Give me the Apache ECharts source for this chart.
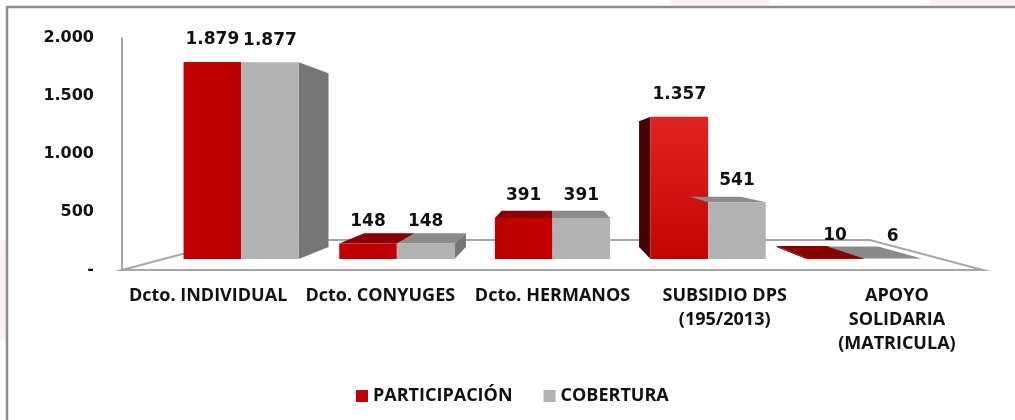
<!DOCTYPE html>
<html>
<head>
<meta charset="utf-8">
<script src="https://cdn.jsdelivr.net/npm/echarts@6/dist/echarts.min.js"></script>
<style>
  html, body { margin: 0; padding: 0; background: #fff; }
  #chart { width: 1015px; height: 420px; }
</style>
</head>
<body>
<div id="chart"></div>
<script>
/* datos del grafico */
var categorias = ["Dcto. INDIVIDUAL", "Dcto. CONYUGES", "Dcto. HERMANOS", "SUBSIDIO DPS\n(195/2013)", "APOYO\nSOLIDARIA\n(MATRICULA)"];
var participacion = [1879, 148, 391, 1357, 10];
var cobertura = [1877, 148, 391, 541, 6];
var ticksY = [0, 500, 1000, 1500, 2000];

var destacado = 3; // barra roja con degradado (SUBSIDIO DPS)

function fmt(v) {
  return String(v).replace(/\B(?=(\d{3})+(?!\d))/g, ".");
}

/* perspectiva tipo Excel 3D */
var K_FRENTE = 0.904, K_FONDO = 0.798, K_PISO = 0.737;

function puntoFuga(cs) {
  return [cs.x + cs.width / 2, cs.y + cs.height * 0.508];
}

function cajas(serie, col) {
  return function (params, api) {
    var cs = params.coordSys;
    var vp = puntoFuga(cs);
    var i = api.value(0), v = api.value(1);
    var base = api.coord([i, 0]);
    var tope = api.coord([i, v]);
    var bw = api.size([1, 0])[0] * 0.37;
    var x0 = serie === 0 ? base[0] - bw : base[0];
    var x1 = x0 + bw;
    function P(x, y, k) { return [vp[0] + (x - vp[0]) * k, vp[1] + (y - vp[1]) * k]; }
    var fb0 = P(x0, base[1], K_FRENTE), fb1 = P(x1, base[1], K_FRENTE);
    var ft0 = P(x0, tope[1], K_FRENTE), ft1 = P(x1, tope[1], K_FRENTE);
    var bb0 = P(x0, base[1], K_FONDO), bb1 = P(x1, base[1], K_FONDO);
    var bt0 = P(x0, tope[1], K_FONDO), bt1 = P(x1, tope[1], K_FONDO);
    var hijos = [];

    // lado izquierdo (solo serie roja) o derecho (solo serie gris)
    if (serie === 0 && fb0[0] > vp[0]) {
      hijos.push({ type: "polygon", shape: { points: [fb0, ft0, bt0, bb0] }, style: { fill: col.lado } });
    }
    if (serie === 1 && fb1[0] < vp[0]) {
      hijos.push({ type: "polygon", shape: { points: [fb1, ft1, bt1, bb1] }, style: { fill: col.lado } });
    }
    // tapa superior
    if (ft0[1] > vp[1]) {
      hijos.push({ type: "polygon", shape: { points: [ft0, ft1, bt1, bt0] }, style: { fill: col.tapa } });
    }
    // frente
    var relleno = col.frente;
    if (serie === 0 && i === destacado) {
      relleno = new echarts.graphic.LinearGradient(0, 0, 0, 1, [
        { offset: 0, color: "#e02424" },
        { offset: 1, color: "#c20404" }
      ]);
    }
    hijos.push({ type: "polygon", shape: { points: [fb0, fb1, ft1, ft0] }, style: { fill: relleno } });
    // etiqueta
    hijos.push({
      type: "text",
      z2: 20,
      style: {
        text: fmt(v),
        x: (ft0[0] + ft1[0]) / 2,
        y: ft0[1] - 22,
        align: "center",
        verticalAlign: "middle",
        font: 'bold 17px "DejaVu Sans"',
        fill: "#111"
      }
    });
    return { type: "group", children: hijos };
  };
}

function piso(params, api) {
  var cs = params.coordSys;
  var vp = puntoFuga(cs);
  var y0 = cs.y + cs.height, xa = cs.x, xb = cs.x + cs.width;
  function P(x, y, k) { return [vp[0] + (x - vp[0]) * k, vp[1] + (y - vp[1]) * k]; }
  return {
    type: "polygon",
    shape: { points: [[xa, y0], [xb, y0], P(xb, y0, K_PISO), P(xa, y0, K_PISO)] },
    style: { fill: "#fff", stroke: "#a6a6a6", lineWidth: 2 }
  };
}

var colRojo = { frente: "#c00000", tapa: "#8a0000", lado: "#4a0000" };
var colGris = { frente: "#b2b2b2", tapa: "#8a8a8a", lado: "#767676" };

var chart = echarts.init(document.getElementById("chart"), null, { renderer: "canvas" });

var option = {
  backgroundColor: "#fff",
  animation: false,
  graphic: [
    { type: "rect", shape: { x: 670, y: 0, width: 100, height: 6 }, style: { fill: "#fef2f4" } },
    { type: "rect", shape: { x: 930, y: 0, width: 85, height: 6 }, style: { fill: "#fef2f4" } },
    { type: "rect", shape: { x: 0, y: 240, width: 6, height: 100 }, style: { fill: "#fef2f4" } },
    {
      type: "polyline",
      shape: { points: [[7, 420], [7, 7], [1015, 7]] },
      style: { stroke: "#8c8c8c", lineWidth: 2.5, fill: null }
    }
  ],
  grid: { left: 122, right: 32, top: 38, bottom: 150 },
  legend: {
    data: ["PARTICIPACIÓN", "COBERTURA"],
    left: 351,
    top: 382,
    icon: "rect",
    itemWidth: 12,
    itemHeight: 12,
    itemGap: 31,
    textStyle: { fontFamily: "Open Sans", fontWeight: "bold", fontSize: 18, color: "#111" }
  },
  xAxis: {
    type: "category",
    data: categorias,
    axisLine: { show: false },
    axisTick: { show: false },
    axisLabel: {
      interval: 0,
      margin: 14,
      lineHeight: 24,
      fontFamily: "Open Sans",
      fontWeight: "bold",
      fontSize: 18,
      color: "#111"
    }
  },
  yAxis: {
    type: "value",
    min: ticksY[0],
    max: ticksY[ticksY.length - 1],
    interval: ticksY[1] - ticksY[0],
    splitLine: { show: false },
    axisTick: { show: false },
    axisLine: { show: true, lineStyle: { color: "#a6a6a6", width: 2 } },
    axisLabel: {
      margin: 28,
      fontFamily: "DejaVu Sans",
      fontWeight: "bold",
      fontSize: 16,
      color: "#111",
      formatter: function (v) { return v === 0 ? "-" : fmt(v); }
    }
  },
  series: [
    {
      name: "piso",
      type: "custom",
      z: 1,
      silent: true,
      renderItem: piso,
      data: [[0, 0]]
    },
    {
      name: "PARTICIPACIÓN",
      type: "custom",
      z: 2,
      itemStyle: { color: colRojo.frente },
      renderItem: cajas(0, colRojo),
      encode: { x: 0, y: 1 },
      data: participacion.map(function (v, i) { return [i, v]; })
    },
    {
      name: "COBERTURA",
      type: "custom",
      z: 3,
      itemStyle: { color: colGris.frente },
      renderItem: cajas(1, colGris),
      encode: { x: 0, y: 1 },
      data: cobertura.map(function (v, i) { return [i, v]; })
    }
  ]
};

chart.setOption(option);
</script>
</body>
</html>
